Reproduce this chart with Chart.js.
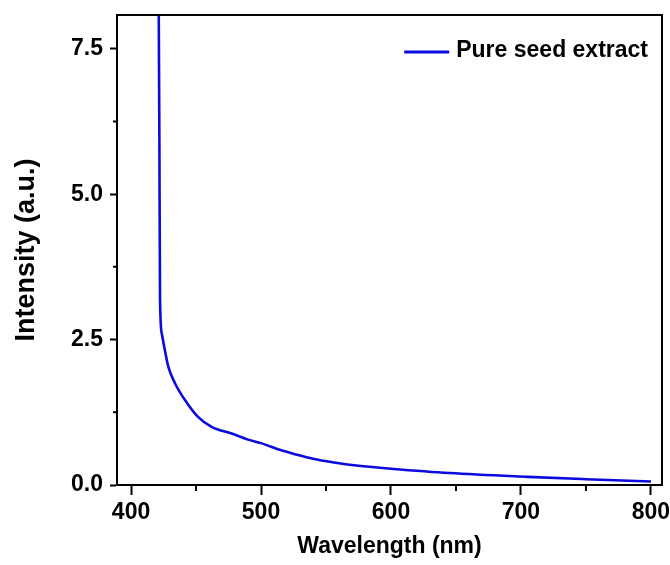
<!DOCTYPE html>
<html>
<head>
<meta charset="utf-8">
<script src="https://cdn.jsdelivr.net/npm/chart.js@4"></script>
<style>
  body { margin: 0; background: #fff; }
  #wrap { width: 670px; height: 565px; }
</style>
</head>
<body>
<div id="wrap"><canvas id="chart" width="670" height="565"></canvas></div>
<script>
// data
const wavelength = [421.2, 421.8, 422.3, 423.7, 426, 428.7, 433.8, 441.5, 451.5, 462, 478, 490, 500, 515, 526, 540, 555, 575, 600, 645, 705, 750, 800];
const intensity = [8.6, 6.0, 3.2, 2.6, 2.32, 2.03, 1.75, 1.46, 1.17, 1.0, 0.88, 0.78, 0.72, 0.6, 0.53, 0.45, 0.39, 0.33, 0.28, 0.205, 0.14, 0.10, 0.06];
const seriesName = 'Pure seed extract';

const xTicks = [400, 500, 600, 700, 800];
const xMinor = [450, 550, 650, 750];
const yTicks = [0, 2.5, 5, 7.5];
const yMinor = [1.25, 3.75, 6.25];

const font = 'Liberation Sans, Arial, sans-serif';
const blue = '#0b0be0';

// box round the plot, short minor ticks and the legend in the top right corner
const frame = {
  id: 'frame',
  afterDraw(chart) {
    const { ctx, chartArea: a, scales: { x, y } } = chart;
    ctx.save();
    ctx.strokeStyle = '#000';
    ctx.lineWidth = 2;
    ctx.strokeRect(a.left, a.top, a.right - a.left, a.bottom - a.top);
    ctx.beginPath();
    xMinor.forEach(v => {
      const px = x.getPixelForValue(v);
      ctx.moveTo(px, a.bottom);
      ctx.lineTo(px, a.bottom + 6);
    });
    yMinor.forEach(v => {
      const py = y.getPixelForValue(v);
      ctx.moveTo(a.left, py);
      ctx.lineTo(a.left - 4, py);
    });
    ctx.stroke();

    ctx.font = 'bold 23px ' + font;
    ctx.fillStyle = '#000';
    ctx.textBaseline = 'middle';
    ctx.textAlign = 'right';
    const tx = a.right - 14, ty = a.top + 36;
    ctx.fillText(seriesName, tx, ty);
    const left = tx - ctx.measureText(seriesName).width;
    ctx.strokeStyle = blue;
    ctx.lineWidth = 3;
    ctx.beginPath();
    ctx.moveTo(left - 52, ty + 1);
    ctx.lineTo(left - 7, ty + 1);
    ctx.stroke();
    ctx.restore();
  }
};

new Chart(document.getElementById('chart'), {
  type: 'line',
  data: {
    datasets: [{
      label: seriesName,
      data: wavelength.map((w, i) => ({ x: w, y: intensity[i] })),
      borderColor: blue,
      backgroundColor: blue,
      borderWidth: 2.6,
      pointRadius: 0,
      cubicInterpolationMode: 'monotone',
      fill: false
    }]
  },
  options: {
    responsive: false,
    animation: false,
    layout: { padding: { left: 0, right: 8, top: 15, bottom: 0 } },
    plugins: {
      legend: { display: false },
      tooltip: { enabled: false }
    },
    scales: {
      x: {
        type: 'linear',
        min: 389.2,
        max: 808.5,
        afterBuildTicks: s => { s.ticks = xTicks.map(v => ({ value: v })); },
        afterFit: s => { s.height = 80; s.paddingLeft = 0; s.paddingRight = 0; },
        grid: { drawOnChartArea: false, tickLength: 10, tickWidth: 2, tickColor: '#000' },
        border: { color: '#000', width: 2 },
        ticks: {
          color: '#000',
          padding: 4,
          maxRotation: 0,
          font: { family: font, size: 23, weight: 'bold' },
          callback: v => String(v)
        },
        title: {
          display: true,
          text: 'Wavelength (nm)',
          color: '#000',
          padding: { top: 0, bottom: 5 },
          font: { family: font, size: 23, weight: 'bold' }
        }
      },
      y: {
        min: 0,
        max: 8.08,
        afterBuildTicks: s => { s.ticks = yTicks.map(v => ({ value: v })); },
        afterFit: s => { s.width = 117; s.paddingTop = 0; s.paddingBottom = 0; },
        grid: { drawOnChartArea: false, tickLength: 7, tickWidth: 2, tickColor: '#000' },
        border: { color: '#000', width: 2 },
        ticks: {
          color: '#000',
          padding: 7,
          font: { family: font, size: 23, weight: 'bold' },
          callback: v => Number(v).toFixed(1)
        },
        title: {
          display: true,
          text: 'Intensity (a.u.)',
          color: '#000',
          padding: { top: 10, bottom: 0 },
          font: { family: font, size: 27, weight: 'bold' }
        }
      }
    }
  },
  plugins: [frame]
});
</script>
</body>
</html>
